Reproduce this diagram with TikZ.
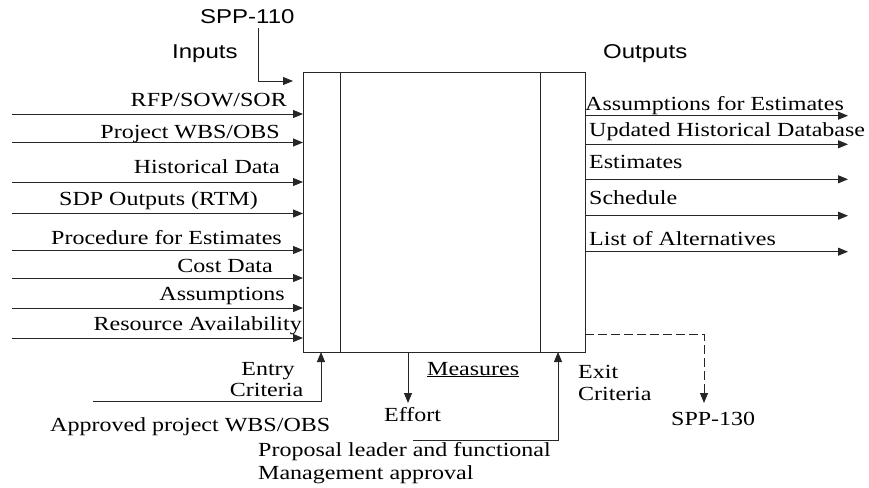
\documentclass[tikz,border=0pt]{standalone}
\usepackage{fontspec}
\setmainfont{Liberation Serif}[FakeStretch=1.2]
\newfontfamily\arialf{Liberation Sans}[FakeStretch=1.2]
\usetikzlibrary{arrows.meta}
\begin{document}
\begin{tikzpicture}[x=1pt,y=-1pt,
  ln/.style={line width=1pt,draw=black!85},
  arr/.style={ln,-{Triangle[length=10pt,width=8pt]}},
  lbl/.style={inner sep=0pt,font=\fontsize{20}{22}\selectfont},
  sans/.style={inner sep=0pt,font=\arialf\fontsize{20}{22}\selectfont},
  lblE/.style={lbl,anchor=base east},
  lblW/.style={lbl,anchor=base west}]
\useasboundingbox[fill=white] (0,0) rectangle (869,487);
% main box
\node[ln,draw,rectangle,minimum width=282pt,minimum height=280pt,inner sep=0pt,anchor=north west] (box) at (303,72) {};
\coordinate (i1t) at (340,72); \coordinate (i1b) at (340,352);
\coordinate (i2t) at (540,72); \coordinate (i2b) at (540,352);
\draw[ln] (i1t) -- (i1b);
\draw[ln] (i2t) -- (i2b);
% titles
\node[sans,anchor=base west] (spp110) at (200,23.5) {SPP-110};
\node[sans,anchor=base west] (inputs) at (172,58.3) {Inputs};
\node[sans,anchor=base west] (outputs) at (603,58.3) {Outputs};
\coordinate (s1) at (258,28);
\coordinate (s2) at (293,81);
\draw[arr] (s1) |- (s2);
% inputs
\foreach \y/\n in {114/a,142.5/b,182/c,213.5/d,250/e,278/f,308/g,338/h}{
  \coordinate (in\n s) at (12,\y);
  \coordinate (in\n e) at (303,\y);
  \draw[arr] (in\n s) -- (in\n e);
}
\node[lblE] (la) at (287,106) {RFP/SOW/SOR};
\node[lblE] (lb) at (280,138) {Project WBS/OBS};
\node[lblE] (lc) at (280,173) {Historical Data};
\node[lblE] (ld) at (258,205) {SDP Outputs (RTM)};
\node[lblE] (le) at (282,244) {Procedure for Estimates};
\node[lblE] (lf) at (273,272.7) {Cost Data};
\node[lblE] (lg) at (285,300.7) {Assumptions};
\node[lblE] (lh) at (302,330) {Resource Availability};
% outputs
\foreach \y/\n in {115.7/a,144.3/b,179.3/c,215.7/d,251.7/e}{
  \coordinate (out\n s) at (585,\y);
  \coordinate (out\n e) at (848,\y);
  \draw[arr] (out\n s) -- (out\n e);
}
\node[lblW] (oa) at (585,110.7) {Assumptions for Estimates};
\node[lblW] (ob) at (589,136) {Updated Historical Database};
\node[lblW] (oc) at (589,168) {Estimates};
\node[lblW] (od) at (589,204) {Schedule};
\node[lblW] (oe) at (589,245.7) {List of Alternatives};
% entry criteria
\coordinate (en1) at (93,401);
\coordinate (en2) at (321,352);
\draw[arr] (en1) -| (en2);
\node[lbl,anchor=base] (entry) at (268,375) {Entry};
\node[lbl,anchor=base] (crit1) at (266.5,396.7) {Criteria};
\node[lblW] (appr) at (50,431.7) {Approved project WBS/OBS};
% effort
\coordinate (ef1) at (408,352);
\coordinate (ef2) at (408,403);
\draw[arr] (ef1) -- (ef2);
\node[lblW] (effort) at (384,421.7) {Effort};
\node[lblW] (meas) at (427,375) {\underline{Measures}};
% exit criteria
\coordinate (ex1) at (413,440);
\coordinate (ex2) at (558,352);
\draw[arr] (ex1) -| (ex2);
\node[lblW] (exit) at (578,378.3) {Exit};
\node[lblW] (crit2) at (578,400.7) {Criteria};
\node[lblW] (prop1) at (258,456.7) {Proposal leader and functional};
\node[lblW] (prop2) at (258,479.3) {Management approval};
% SPP-130
\coordinate (d1) at (585,334);
\coordinate (d2) at (704,403);
\draw[arr,dash pattern=on 9pt off 4pt] (d1) -| (d2);
\node[lblW] (spp130) at (671,425) {SPP-130};
\end{tikzpicture}
\end{document}
